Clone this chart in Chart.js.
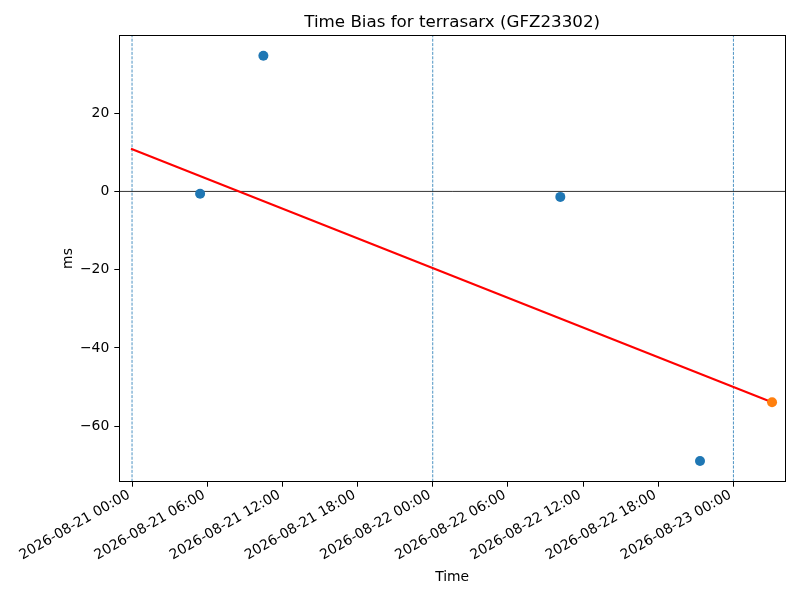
<!DOCTYPE html>
<html>
<head>
<script src="https://cdn.jsdelivr.net/npm/chart.js@4.4.0/dist/chart.umd.min.js"></script>
<style>
    body { margin: 0; background: #fff; }
    #wrap { width: 800px; height: 600px; }
</style>
<title>Time Bias</title>
</head>
<body>
<div id="wrap"><canvas id="biasChart"></canvas></div>
<script>
// values
const biasTimes = ['2026-08-21 05:26', '2026-08-21 10:29', '2026-08-22 10:11', '2026-08-22 21:20'];
const biasValues = [-0.6, 34.7, -1.4, -68.9];
const latestTimes = ['2026-08-23 03:05'];
const latestValues = [-53.9];
const fitTimes = ['2026-08-20 23:55', '2026-08-23 03:05'];
const fitValues = [10.9, -53.9];
const dayMarks = ['2026-08-21 00:00', '2026-08-22 00:00', '2026-08-23 00:00'];
const xTickTimes = ['2026-08-21 00:00', '2026-08-21 06:00', '2026-08-21 12:00', '2026-08-21 18:00',
    '2026-08-22 00:00', '2026-08-22 06:00', '2026-08-22 12:00', '2026-08-22 18:00', '2026-08-23 00:00'];
const yTicks = [-60, -40, -20, 0, 20];
const xRange = ['2026-08-20 22:59', '2026-08-23 04:07'];
const yRange = [-74.2, 39.9];

// hours since 2026-08-21 00:00 (UTC, no date adapter needed)
const base = Date.UTC(2026, 7, 21, 0, 0);
function toHours(s) {
    const [d, t] = s.split(' ');
    const [Y, M, D] = d.split('-').map(Number);
    const [h, m] = t.split(':').map(Number);
    return (Date.UTC(Y, M - 1, D, h, m) - base) / 3600000;
}
function fmtHours(v) {
    const dt = new Date(base + v * 3600000);
    const p = n => String(n).padStart(2, '0');
    return dt.getUTCFullYear() + '-' + p(dt.getUTCMonth() + 1) + '-' + p(dt.getUTCDate()) + ' ' +
        p(dt.getUTCHours()) + ':' + p(dt.getUTCMinutes());
}
const pts = (ts, vs) => ts.map((t, i) => ({x: toHours(t), y: vs[i]}));

const xMin = toHours(xRange[0]), xMax = toHours(xRange[1]);

const datasets = [
    {
        type: 'scatter', data: pts(latestTimes, latestValues),
        backgroundColor: '#ff7f0e', borderWidth: 0, pointRadius: 5
    },
    {
        type: 'scatter', data: pts(biasTimes, biasValues),
        backgroundColor: '#1f77b4', borderWidth: 0, pointRadius: 5
    },
    {
        type: 'line', data: pts(fitTimes, fitValues),
        borderColor: '#ff0000', borderWidth: 2, pointRadius: 0, tension: 0
    },
    {
        type: 'line', data: [{x: xMin, y: 0}, {x: xMax, y: 0}],
        borderColor: '#000', borderWidth: 0.8, pointRadius: 0
    }
];
dayMarks.forEach(function (d) {
    datasets.push({
        type: 'line', data: [{x: toHours(d), y: yRange[0]}, {x: toHours(d), y: yRange[1]}],
        borderColor: '#1f77b4', borderWidth: 0.8, borderDash: [3, 1.4], pointRadius: 0
    });
});

// axes box on all four sides like matplotlib
const frame = {
    id: 'frame',
    afterDraw(chart) {
        const a = chart.chartArea, c = chart.ctx;
        c.save();
        c.strokeStyle = '#000';
        c.lineWidth = 1;
        c.strokeRect(Math.round(a.left) + 0.5, Math.round(a.top) + 0.5,
            Math.round(a.right - a.left), Math.round(a.bottom - a.top));
        c.restore();
    }
};

Chart.defaults.font.family = 'DejaVu Sans';
Chart.defaults.color = '#000';

new Chart(document.getElementById('biasChart'), {
    data: {datasets: datasets},
    plugins: [frame],
    options: {
        responsive: true,
        maintainAspectRatio: false,
        animation: false,
        devicePixelRatio: 1,
        layout: {padding: {left: 0, right: 15, top: 0, bottom: 0}},
        plugins: {
            legend: {display: false},
            tooltip: {enabled: false},
            title: {
                display: true,
                text: 'Time Bias for terrasarx (GFZ23302)',
                fullSize: false,
                color: '#000',
                font: {size: 16.7, weight: 'normal'},
                padding: {top: 12.5, bottom: 2.8}
            }
        },
        scales: {
            x: {
                type: 'linear',
                min: xMin,
                max: xMax,
                afterBuildTicks(scale) {
                    scale.ticks = xTickTimes.map(t => ({value: toHours(t)}));
                },
                afterFit(scale) { scale.height = 118.3; },
                grid: {drawOnChartArea: false, drawTicks: true, tickLength: 5, tickColor: '#000', tickWidth: 1},
                border: {display: false},
                ticks: {
                    maxRotation: 30, minRotation: 30, autoSkip: false, padding: 0, labelOffset: -3,
                    font: {size: 13.9},
                    callback: v => fmtHours(v)
                },
                title: {display: true, text: 'Time', font: {size: 13.9}, padding: {top: 0, bottom: 14.7}}
            },
            y: {
                type: 'linear',
                min: yRange[0],
                max: yRange[1],
                afterBuildTicks(scale) {
                    scale.ticks = yTicks.map(v => ({value: v}));
                },
                afterFit(scale) { scale.width = 119.3; },
                grid: {drawOnChartArea: false, drawTicks: true, tickLength: 5, tickColor: '#000', tickWidth: 1},
                border: {display: false},
                ticks: {
                    padding: 5,
                    font: {size: 13.9},
                    callback: v => String(v).replace('-', '\u2212')
                },
                title: {display: true, text: 'ms', font: {size: 13.9}, padding: {top: 59.7, bottom: 0}}
            }
        }
    }
});
</script>
</body>
</html>
